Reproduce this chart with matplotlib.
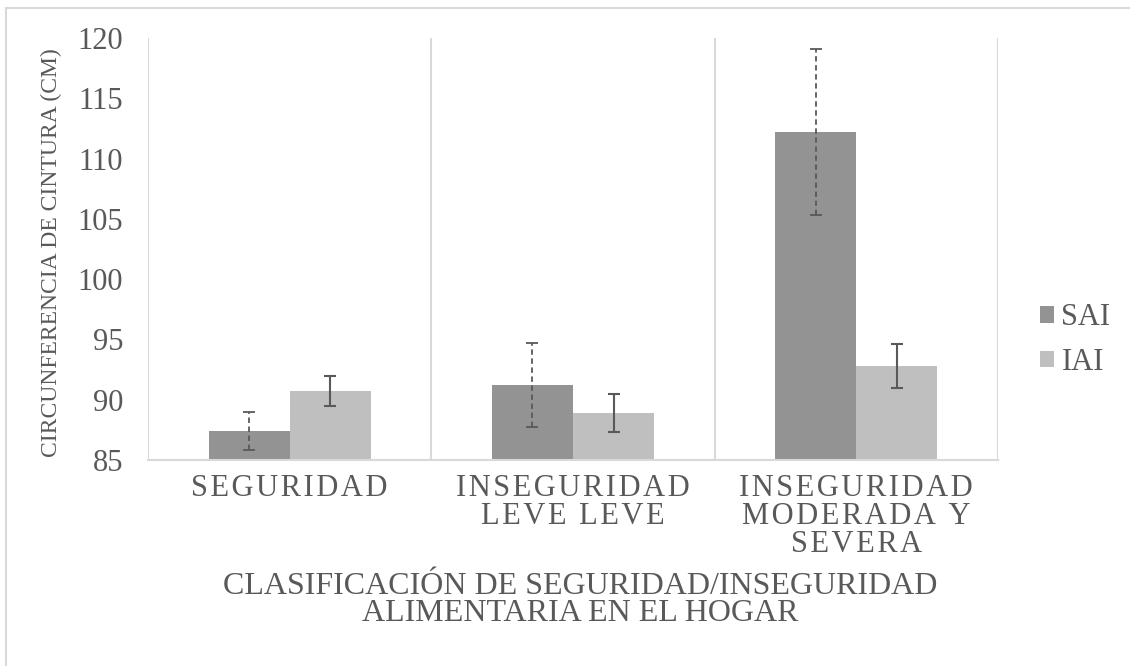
import numpy as np
import matplotlib.pyplot as plt
from matplotlib.patches import Rectangle

categorias = ['SEGURIDAD', 'INSEGURIDAD\nLEVE LEVE', 'INSEGURIDAD\nMODERADA Y\nSEVERA']
sai = [87.4, 91.2, 112.2]
sai_err = [1.6, 3.5, 6.9]
iai = [90.7, 88.9, 92.8]
iai_err = [1.25, 1.55, 1.8]

gris_texto = '#595959'
plt.rcParams['font.family'] = 'serif'
plt.rcParams['font.serif'] = ['Liberation Serif', 'DejaVu Serif']

W, H = 1130, 666
fig = plt.figure(figsize=(W / 100, H / 100), dpi=100)
ax = fig.add_axes([148 / W, 1 - 460 / H, 850 / W, 422 / H])

x = np.arange(len(categorias))
w = 0.286
ax.bar(x - w / 2, sai, w, color='#939393', label='SAI', zorder=2)
ax.bar(x + w / 2, iai, w, color='#bfbfbf', label='IAI', zorder=2)

eb1 = ax.errorbar(x - w / 2, sai, yerr=sai_err, fmt='none', ecolor=gris_texto,
                  elinewidth=1.3, capsize=4.5, capthick=1.3, zorder=3)
eb1[2][0].set_linestyle((0, (3, 2)))
ax.errorbar(x + w / 2, iai, yerr=iai_err, fmt='none', ecolor=gris_texto,
            elinewidth=1.5, capsize=4.5, capthick=1.5, zorder=3)

ax.set_xlim(-0.5, len(categorias) - 0.5)
ax.set_ylim(85, 120)
ax.set_yticks(np.arange(85, 121, 5))

# separadores de categoria
for xv in np.arange(-0.5, len(categorias), 1):
    ax.axvline(xv, color='#d9d9d9', lw=1.5, zorder=1)

for s in ['top', 'right', 'left']:
    ax.spines[s].set_visible(False)
ax.spines['bottom'].set_color('#d9d9d9')
ax.spines['bottom'].set_linewidth(1.5)

# Excel deja espacio entre letras en las etiquetas del eje x
def espaciar(t):
    return '\n'.join('\u200a'.join(linea) for linea in t.split('\n'))

ax.set_xticks(x)
ax.set_xticklabels([espaciar(c) for c in categorias], fontsize=22, color=gris_texto,
                   linespacing=0.95)
ax.tick_params(axis='x', length=0, pad=10)
ax.tick_params(axis='y', length=0, pad=18, labelsize=22, labelcolor=gris_texto)

fig.text(51 / W, 1 - 253 / H, 'CIRCUNFERENCIA DE CINTURA (CM)', rotation=90,
         ha='center', va='center', fontsize=17, color=gris_texto)
fig.text(580 / W, 1 - 600 / H, 'CLASIFICACIÓN DE SEGURIDAD/INSEGURIDAD\nALIMENTARIA EN EL HOGAR',
         ha='center', va='center', multialignment='center', fontsize=23,
         color=gris_texto, linespacing=0.95)

ax.legend(loc='center left', bbox_to_anchor=(1040 / W, 1 - 340 / H),
          bbox_transform=fig.transFigure, frameon=False, borderpad=0, borderaxespad=0,
          fontsize=22, labelcolor=gris_texto, handlelength=0.45, handleheight=0.45,
          handletextpad=0.25, labelspacing=0.5)

# borde del grafico
fig.patches.append(Rectangle((6 / W, -0.1), 1.2, (1 - 8 / H) + 0.1,
                             transform=fig.transFigure, fill=False,
                             edgecolor='#d9d9d9', lw=1.5))

fig.savefig('out.png', dpi=100)
